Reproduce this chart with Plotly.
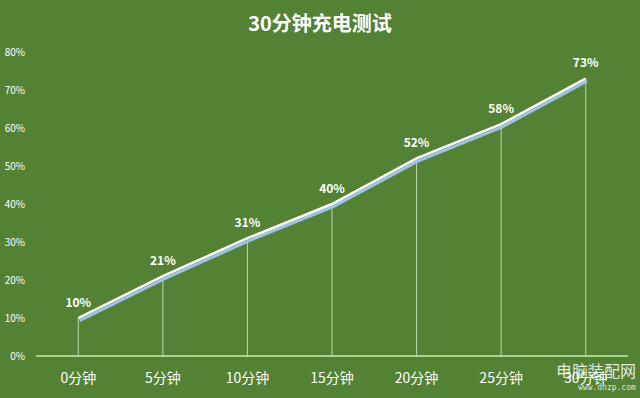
import plotly.graph_objects as go

categories = ["0分钟", "5分钟", "10分钟", "15分钟", "20分钟", "25分钟", "30分钟"]
# plotted positions (percent)
charge_pct = [10, 21, 31, 40, 52, 61, 73]
# data label texts shown in the picture
label_text = ["10%", "21%", "31%", "40%", "52%", "58%", "73%"]
y_ticks = [0, 10, 20, 30, 40, 50, 60, 70, 80]

BG = "#548235"
FONT = "Noto Sans CJK SC, Microsoft YaHei, sans-serif"
xs = list(range(len(categories)))

# drop lines built from the data
drop_x, drop_y = [], []
for x, v in zip(xs, charge_pct):
    drop_x += [x, x, None]
    drop_y += [0, v, None]

fig = go.Figure()
fig.add_trace(go.Scatter(x=drop_x, y=drop_y, mode="lines",
                         line=dict(color="rgba(226,240,217,0.75)", width=1),
                         hoverinfo="skip", showlegend=False))
# shadow of the line
fig.add_trace(go.Scatter(x=[x + 0.015 for x in xs], y=[v - 0.7 for v in charge_pct],
                         mode="lines", line=dict(color="#9dc3e6", width=3),
                         hoverinfo="skip", showlegend=False))
fig.add_trace(go.Scatter(x=xs, y=charge_pct, mode="lines+markers+text",
                         line=dict(color="#ffffff", width=2.5),
                         marker=dict(size=12, color="rgba(0,0,0,0)"),
                         text=label_text, textposition="top center",
                         textfont=dict(family=FONT, size=12, color="white", weight="bold"),
                         showlegend=False))

W, H = 640, 398
fig.update_layout(
    width=W, height=H,
    paper_bgcolor=BG, plot_bgcolor=BG,
    margin=dict(l=36, r=12, t=52, b=42, autoexpand=False),
    title=dict(text="<b>30分钟充电测试</b>", x=0.5, xanchor="center", y=1 - 24 / H,
               yanchor="middle", yref="container", automargin=False,
               font=dict(family=FONT, size=20, color="white")),
    font=dict(family=FONT, color="white"),
    hovermode=False,
)
fig.update_xaxes(range=[-0.5, len(categories) - 0.5], tickmode="array", tickvals=xs,
                 ticktext=categories, showgrid=False, zeroline=False, automargin=False,
                 showline=False, ticks="", ticklabelstandoff=12,
                 tickfont=dict(family=FONT, size=14, color="white"))
fig.update_yaxes(range=[0, 80], tickmode="array", tickvals=y_ticks,
                 ticktext=[f"{t}%" for t in y_ticks], showgrid=False, automargin=False,
                 zeroline=True, zerolinecolor="#a9d18e", zerolinewidth=2,
                 showline=False, ticks="", ticklabelstandoff=10,
                 tickfont=dict(family=FONT, size=10, color="white"))

# watermark
fig.add_annotation(text="电脑装配网", xref="paper", yref="paper", x=1.017, y=-0.045,
                   xanchor="right", yanchor="middle", showarrow=False,
                   font=dict(family=FONT, size=16, color="rgba(255,255,255,0.85)"))
fig.add_annotation(text="www.dnzp.com", xref="paper", yref="paper", x=1.017, y=-0.105,
                   xanchor="right", yanchor="middle", showarrow=False,
                   font=dict(family="DejaVu Sans Mono", size=8, color="rgba(255,255,255,0.8)"))

fig.write_html("out.html", config={"displayModeBar": False},
               post_script="document.body.style.margin='0';document.body.style.background='#548235';")
